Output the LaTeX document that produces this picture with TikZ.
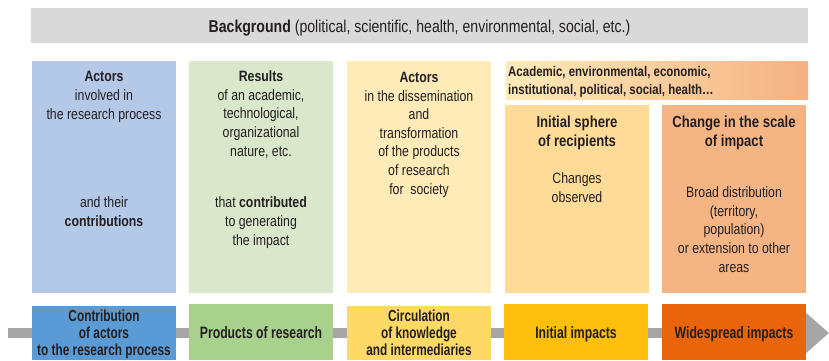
\documentclass[tikz,border=0pt]{standalone}
\usepackage{fontspec}
\setmainfont{Liberation Sans}[FakeStretch=0.82]
\newfontfamily\stagefamily{Liberation Sans}[FakeStretch=0.74]
\usetikzlibrary{arrows.meta}
\definecolor{bgrey}{HTML}{D9D9D9}
\definecolor{bluelt}{HTML}{B4C8E8}
\definecolor{bluedk}{HTML}{5B9BD5}
\definecolor{greenlt}{HTML}{D9E7CB}
\definecolor{greendk}{HTML}{A9D18E}
\definecolor{yellowlt}{HTML}{FFEBB7}
\definecolor{yellowdk}{HTML}{FFD966}
\definecolor{orangelt}{HTML}{FFDB98}
\definecolor{orangedk}{HTML}{FDBE0C}
\definecolor{salmonlt}{HTML}{F5B484}
\definecolor{salmondk}{HTML}{EA640C}
\definecolor{gradl}{HTML}{FFEBB8}
\definecolor{gradr}{HTML}{F4B183}
\definecolor{arrowgrey}{HTML}{A6A6A6}
\definecolor{ink}{HTML}{231F20}
\newcommand*{\bodyfont}{\fontsize{15}{18.6}\selectfont}
\newcommand*{\headfont}{\fontsize{16}{18.3}\selectfont\bfseries}
\newcommand*{\stagefont}{\stagefamily\fontsize{16}{16.7}\selectfont\bfseries}

\begin{document}
\begin{tikzpicture}[x=1pt, y=-1pt,
    panel/.style = {inner sep=0, anchor=north west, minimum width=144pt},
    txt/.style = {inner sep=0, align=center, anchor=base, text=ink, font=\bodyfont},
    stage/.style = {txt, font=\stagefont}]
  \useasboundingbox (0,0) rectangle (829,360);
  % flow arrow behind the stages
  \coordinate (flowstart) at (8,333);
  \coordinate (flowtip) at (829,333);
  \draw[arrowgrey, line width=10.5pt, -{Triangle[length=23pt, width=39pt]}]
    (flowstart) -- (flowtip);
  % background bar
  \node[panel, fill=bgrey, minimum width=777pt, minimum height=35pt] (bg) at (31,8) {};
  \node[txt, font=\fontsize{17.2}{20}\selectfont] (bgtext) at (419.5,32)
    {\textbf{Background} (political, scientific, health, environmental, social, etc.)};
  % upper panels (text nodes sit on the baseline of their last line)
  \node[panel, fill=bluelt, minimum height=232pt] (actors) at (32,61) {};
  \node[panel, fill=greenlt, minimum height=232pt] (results) at (189,61) {};
  \node[panel, fill=yellowlt, minimum height=232pt] (dissem) at (347,61) {};
  \node[panel, left color=gradl, right color=gradr, minimum width=302pt,
    minimum height=38pt] (spheres) at (506,61) {};
  \node[panel, fill=orangelt, minimum height=188pt] (initial) at (505,105) {};
  \node[panel, fill=salmonlt, minimum height=188pt] (scale) at (662,105) {};
  \node[txt] (actorsa) at (104,119) {\textbf{Actors}\\involved in\\the research process};
  \node[txt] (actorsb) at (104,226) {and their\\\textbf{contributions}};
  \node[txt] (resultsa) at (261,156)
    {\textbf{Results}\\of an academic,\\technological,\\organizational\\nature, etc.};
  \node[txt] (resultsb) at (261,245) {that \textbf{contributed}\\to generating\\the impact};
  \node[txt] (dissema) at (419,194) {\textbf{Actors}\\in the dissemination\\and\\transformation\\of the products\\of research\\for~ society};
  \node[txt, align=left, anchor=base west, font=\fontsize{14}{18}\selectfont\bfseries]
    (spherestext) at (508,94)
    {Academic, environmental, economic,\\institutional, political, social, health\ldots};
  \node[txt, font=\headfont] (initiala) at (577,146) {Initial sphere\\of recipients};
  \node[txt] (initialb) at (577,202) {Changes\\observed};
  \node[txt, font=\headfont] (scalea) at (734,146) {Change in the scale\\of impact};
  \node[txt] (scaleb) at (734,272)
    {Broad distribution\\(territory,\\population)\\or extension to other\\areas};
  % stages
  \node[panel, fill=bluedk, minimum height=54pt] (contrib) at (32,306) {};
  \node[panel, fill=greendk, minimum height=56pt] (products) at (189,304) {};
  \node[panel, fill=yellowdk, minimum height=54pt] (circul) at (347,306) {};
  \node[panel, fill=orangedk, minimum height=56pt] (initimp) at (504,304) {};
  \node[panel, fill=salmondk, minimum height=56pt] (wideimp) at (662,304) {};
  \node[stage] at (104,355) {Contribution\\of actors\\to the research process};
  \node[stage, font=\stagefamily\fontsize{16.5}{18}\selectfont\bfseries] at (261,338) {Products of research};
  \node[stage] at (419,355) {Circulation\\of knowledge\\and intermediaries};
  \node[stage, font=\stagefamily\fontsize{16.5}{18}\selectfont\bfseries] at (576,338) {Initial impacts};
  \node[stage, font=\stagefamily\fontsize{16.5}{18}\selectfont\bfseries] at (734,338) {Widespread impacts};
\end{tikzpicture}
\end{document}
